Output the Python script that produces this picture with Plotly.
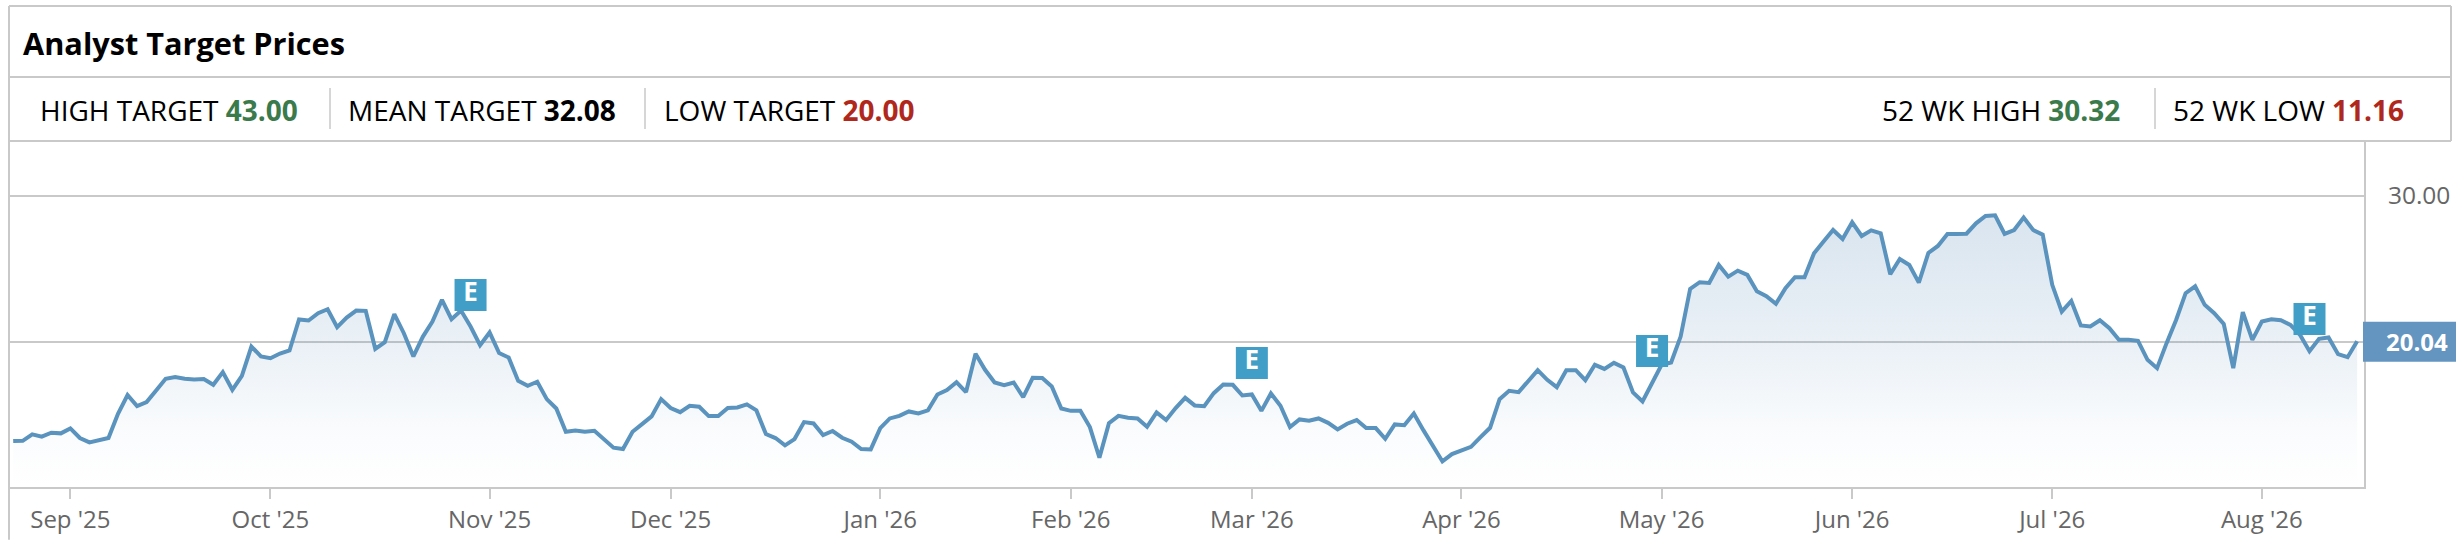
import plotly.graph_objects as go

# ---------- data ----------
prices = [
13.21,13.23,13.67,13.51,13.78,13.74,14.08,13.42,13.12,13.26,13.42,15.08,16.36,15.60,15.88,16.67,17.47,17.59,17.47,17.43,
17.45,17.06,17.93,16.72,17.68,19.68,19.00,18.88,19.20,19.41,21.53,21.46,21.96,22.23,21.00,21.66,22.14,22.12,19.52,19.98,
21.89,20.59,19.00,20.36,21.39,22.87,21.55,22.14,21.05,19.77,20.64,19.23,18.93,17.33,16.99,17.27,16.08,15.44,13.85,13.94,
13.85,13.92,13.30,12.76,12.67,13.85,14.37,14.90,16.08,15.47,15.19,15.63,15.56,14.92,14.92,15.47,15.51,15.72,15.31,13.69,
13.42,12.92,13.35,14.51,14.42,13.62,13.90,13.44,13.17,12.67,12.64,14.10,14.76,14.94,15.24,15.10,15.31,16.40,16.70,17.24,
16.56,19.18,18.09,17.22,17.04,17.22,16.22,17.54,17.52,16.95,15.44,15.28,15.28,14.17,12.07,14.44,14.94,14.81,14.76,14.19,
15.17,14.65,15.47,16.17,15.65,15.60,16.49,17.08,17.06,16.33,16.40,15.28,16.47,15.63,14.17,14.69,14.60,14.76,14.46,14.01,
14.40,14.65,14.10,14.10,13.37,14.35,14.30,15.10,13.96,12.89,11.82,12.32,12.55,12.82,13.48,14.12,16.08,16.65,16.56,17.33,
18.06,17.40,16.90,18.06,18.06,17.38,18.43,18.15,18.56,18.25,16.54,15.92,17.18,18.43,18.59,20.36,23.62,24.08,24.03,25.26,
24.46,24.87,24.58,23.46,23.12,22.60,23.67,24.42,24.42,26.06,26.86,27.65,27.04,28.18,27.24,27.63,27.43,24.62,25.67,25.26,
24.05,26.08,26.56,27.38,27.38,27.40,28.11,28.61,28.66,27.38,27.65,28.50,27.65,27.33,23.90,22.07,22.80,21.12,21.05,21.48,
20.93,20.14,20.14,20.07,18.77,18.20,19.91,21.50,23.33,23.80,22.53,21.96,21.23,18.20,22.03,20.14,21.39,21.55,21.48,21.16,
20.48,19.36,20.21,20.30,19.16,18.95,20.04]

month_labels = ["Sep '25","Oct '25","Nov '25","Dec '25","Jan '26","Feb '26","Mar '26","Apr '26","May '26","Jun '26","Jul '26","Aug '26"]
month_index = [6,27,50,69,91,111,130,152,173,193,214,236]

earnings_index = [48,130,172,241]
earnings_level = [23.21,18.56,19.38,21.57]
earnings_text = ["E","E","E","E"]

grid_values = [20,30]
grid_labels = ["","30.00"]

high_target, mean_target, low_target = "43.00","32.08","20.00"
wk_high, wk_low = "30.32","11.16"

# ---------- layout constants ----------
W,H = 2462,542
L,R,T,B = 9,2364,141,487.3
LINE = "#c9c9c9"
GREEN,RED = "#3a7a4b","#b0281c"
FONT = "Open Sans"
index = list(range(len(prices)))

def px(x): return (x-L)/(R-L)
def py(y): return (B-y)/(B-T)

fig = go.Figure()
fig.add_trace(go.Scatter(
    x=index,y=prices,mode="lines",
    line=dict(color="#5a93bd",width=4),
    fill="tozeroy",
    fillgradient=dict(type="vertical",start=10.07,stop=28.66,
        colorscale=[[0,"rgba(90,140,185,0)"],[0.2,"rgba(90,140,185,0.03)"],
                    [0.5,"rgba(90,140,185,0.12)"],[1,"rgba(90,140,185,0.23)"]]),
    hoverinfo="skip",showlegend=False))
fig.add_trace(go.Scatter(
    x=earnings_index,y=earnings_level,mode="markers+text",
    marker=dict(symbol="square",size=32,color="#419fc7",line=dict(width=0)),
    text=earnings_text,textposition="middle center",
    textfont=dict(family=FONT,size=26,color="white",weight=700),
    hoverinfo="skip",showlegend=False))

def segment(x0,y0,x1,y1,width=2,color=LINE):
    return dict(type="line",xref="paper",yref="paper",x0=px(x0),y0=py(y0),x1=px(x1),y1=py(y1),
                line=dict(color=color,width=width),layer="above")

shapes = [
    segment(9,6,2451,6), segment(9,77,2451,77), segment(9,141,2451,141),
    segment(9,6,9,540), segment(2451,6,2451,141),
    segment(330,88,330,129,1.5), segment(645,88,645,129,1.5), segment(2155,88,2155,129,1.5),
    dict(type="rect",xref="paper",yref="paper",x0=px(2363),x1=px(2456),y0=py(322),y1=py(362),
         fillcolor="#6495c0",line=dict(width=0),layer="above"),
]

def note(x,y,text,size=28,anchor="left",color="#000000",weight=None):
    f = dict(family=FONT,size=size,color=color)
    if weight: f["weight"]=weight
    return dict(xref="paper",yref="paper",x=px(x),y=py(y),text=text,showarrow=False,
                xanchor=anchor,yanchor="middle",font=f,align=anchor)

def stat(label,value,color):
    return f"{label} <span style='color:{color}'><b>{value}</b></span>"

annotations = [
    note(21,43,"Analyst Target Prices",size=30.7,weight=700),
    note(38,110,stat("HIGH TARGET",high_target,GREEN)),
    note(346,110,stat("MEAN TARGET",mean_target,"#000000")),
    note(662,110,stat("LOW TARGET",low_target,RED)),
    note(1880,110,stat("52 WK HIGH",wk_high,GREEN)),
    note(2171,110,stat("52 WK LOW",wk_low,RED)),
    note(2450,342,f"<b>{prices[-1]:.2f}</b>",size=24,anchor="right",color="#ffffff"),
]

fig.update_layout(
    width=W,height=H,margin=dict(l=L,r=W-R,t=T,b=H-B,pad=0,autoexpand=False),
    paper_bgcolor="white",plot_bgcolor="white",showlegend=False,
    shapes=shapes,annotations=annotations,
    font=dict(family=FONT,color="#666666"),
    xaxis=dict(range=[-0.44,246.72],tickvals=month_index,ticktext=month_labels,
               showgrid=False,zeroline=False,showline=True,linecolor=LINE,linewidth=2,
               ticks="outside",ticklen=10,tickwidth=2,tickcolor=LINE,
               tickfont=dict(family=FONT,size=24,color="#666666")),
    yaxis=dict(range=[10.07,33.74],side="right",tickvals=grid_values,ticktext=grid_labels,
               showgrid=True,gridcolor=LINE,gridwidth=2,zeroline=False,
               showline=True,linecolor=LINE,linewidth=2,ticks="",ticklabelstandoff=17,
               tickfont=dict(family=FONT,size=24.5,color="#666666")),
)
fig.write_html("out.html",config={"displayModeBar":False},post_script="document.body.style.margin='0';")
